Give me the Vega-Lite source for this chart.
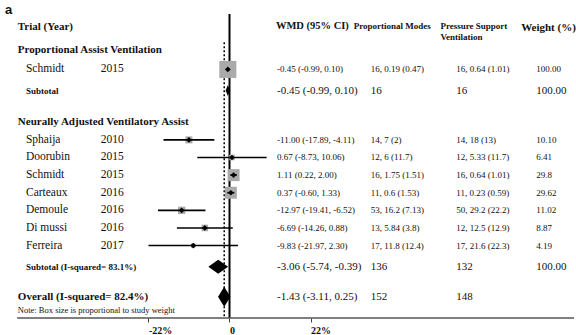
{
  "$schema": "https://vega.github.io/schema/vega-lite/v6.json",
  "width": 576,
  "height": 335,
  "autosize": {"type": "fit", "contains": "padding"},
  "padding": 0,
  "background": "white",
  "config": {
    "view": {"stroke": null},
    "text": {"font": "Liberation Serif", "color": "#111111", "align": "left", "baseline": "middle"}
  },
  "datasets": {
    "studies": [
      {"name": "Schmidt", "year": "2015", "row": 2, "est": -0.45, "lo": -0.99, "hi": 0.10, "weight": 100.0, "wmd": "-0.45 (-0.99, 0.10)", "pm": "16, 0.19 (0.47)", "psv": "16, 0.64 (1.01)", "wlabel": "100.00"},
      {"name": "Sphaija", "year": "2010", "row": 6, "est": -11.00, "lo": -17.89, "hi": -4.11, "weight": 10.10, "wmd": "-11.00 (-17.89, -4.11)", "pm": "14, 7 (2)", "psv": "14, 18 (13)", "wlabel": "10.10"},
      {"name": "Doorubin", "year": "2015", "row": 7, "est": 0.67, "lo": -8.73, "hi": 10.06, "weight": 6.41, "wmd": "0.67 (-8.73, 10.06)", "pm": "12, 6 (11.7)", "psv": "12, 5.33 (11.7)", "wlabel": "6.41"},
      {"name": "Schmidt", "year": "2015", "row": 8, "est": 1.11, "lo": 0.22, "hi": 2.00, "weight": 29.8, "wmd": "1.11 (0.22, 2.00)", "pm": "16, 1.75 (1.51)", "psv": "16, 0.64 (1.01)", "wlabel": "29.8"},
      {"name": "Carteaux", "year": "2016", "row": 9, "est": 0.37, "lo": -0.60, "hi": 1.33, "weight": 29.62, "wmd": "0.37 (-0.60, 1.33)", "pm": "11, 0.6 (1.53)", "psv": "11, 0.23 (0.59)", "wlabel": "29.62"},
      {"name": "Demoule", "year": "2016", "row": 10, "est": -12.97, "lo": -19.41, "hi": -6.52, "weight": 11.02, "wmd": "-12.97 (-19.41, -6.52)", "pm": "53, 16.2 (7.13)", "psv": "50, 29.2 (22.2)", "wlabel": "11.02"},
      {"name": "Di mussi", "year": "2016", "row": 11, "est": -6.69, "lo": -14.26, "hi": 0.88, "weight": 8.87, "wmd": "-6.69 (-14.26, 0.88)", "pm": "13, 5.84 (3.8)", "psv": "12, 12.5 (12.9)", "wlabel": "8.87"},
      {"name": "Ferreira", "year": "2017", "row": 12, "est": -9.83, "lo": -21.97, "hi": 2.30, "weight": 4.19, "wmd": "-9.83 (-21.97, 2.30)", "pm": "17, 11.8 (12.4)", "psv": "17, 21.6 (22.3)", "wlabel": "4.19"}
    ],
    "summary": [
      {"name": "Subtotal", "kind": "pav", "row": 3.2, "est": -0.45, "lo": -0.99, "hi": 0.10, "wmd": "-0.45 (-0.99, 0.10)", "pm": "16", "psv": "16", "wlabel": "100.00"},
      {"name": "Subtotal (I-squared= 83.1%)", "kind": "nava", "row": 13.2, "est": -3.06, "lo": -5.74, "hi": -0.39, "wmd": "-3.06 (-5.74, -0.39)", "pm": "136", "psv": "132", "wlabel": "100.00"},
      {"name": "Overall (I-squared= 82.4%)", "kind": "overall", "row": 14.91, "est": -1.43, "lo": -3.11, "hi": 0.25, "wmd": "-1.43 (-3.11, 0.25)", "pm": "152", "psv": "148", "wlabel": ""}
    ],
    "headings": [
      {"col": "left", "row": -0.4, "label": "Trial (Year)"},
      {"col": "left", "row": 0.914, "label": "Proportional Assist Ventilation"},
      {"col": "left", "row": 4.97, "label": "Neurally Adjusted Ventilatory Assist"},
      {"col": "wmd", "row": -0.457, "label": "WMD (95% CI)"},
      {"col": "pm", "row": -0.457, "label": "Proportional Modes"},
      {"col": "psv", "row": -0.457, "label": "Pressure Support"},
      {"col": "psv", "row": 0.171, "label": "Ventilation"},
      {"col": "wt", "row": -0.38, "label": "Weight (%)"},
      {"col": "note", "row": 15.66, "label": "Note: Box size is proportional to study weight"},
      {"col": "panel", "row": -1.37, "label": "a"}
    ]
  },
  "layer": [
    {
      "data": {"values": [{}]},
      "mark": {"type": "rule", "color": "black", "strokeWidth": 2},
      "encoding": {
        "x": {"datum": 0, "type": "quantitative",
          "scale": {"domain": [-62.24, 93.43], "nice": false, "zero": false}},
        "y": {"datum": -1.143, "type": "quantitative", "scale": {"domain": [-1.943, 16.114], "reverse": true, "nice": false, "zero": false}, "axis": null},
        "y2": {"datum": 16.114}
      }
    },
    {
      "data": {"values": [{}]},
      "mark": {"type": "rule", "color": "black", "strokeWidth": 1.5, "strokeDash": [2, 2]},
      "encoding": {
        "x": {"datum": -1.43, "type": "quantitative"},
        "y": {"datum": 0.457, "type": "quantitative", "axis": null},
        "y2": {"datum": 16.114}
      }
    },
    {
      "data": {"values": [{}]},
      "mark": {"type": "rule", "color": "#555555", "strokeWidth": 1.5},
      "encoding": {
        "x": {"datum": -57.6, "type": "quantitative"},
        "x2": {"datum": 93.43},
        "y": {"datum": 16.114, "type": "quantitative", "axis": null}
      }
    },
    {
      "data": {"name": "studies"},
      "mark": {"type": "square", "filled": true, "color": "#aaaaaa", "opacity": 1},
      "encoding": {
        "x": {"field": "est", "type": "quantitative"},
        "y": {"field": "row", "type": "quantitative", "axis": null},
        "size": {"field": "weight", "type": "quantitative", "scale": {"type": "linear", "domain": [0, 60], "range": [0, 290], "clamp": true}, "legend": null}
      }
    },
    {
      "data": {"name": "studies"},
      "mark": {"type": "rule", "color": "black", "strokeWidth": 1.6},
      "encoding": {
        "x": {"field": "lo", "type": "quantitative", "title": null,
          "axis": {"values": [-22, 0, 22], "labelExpr": "datum.value == 0 ? '0' : datum.value + '%'", "domain": false, "grid": false, "ticks": true, "tickSize": 4, "tickColor": "#444444", "tickWidth": 1, "labelFontSize": 10, "labelFontWeight": "bold", "labelFont": "Liberation Serif", "labelColor": "#111111", "labelPadding": 3, "labelAlign": "left", "labelDx": -3, "labelFlush": false, "labelOverlap": false, "title": null}},
        "x2": {"field": "hi"},
        "y": {"field": "row", "type": "quantitative", "axis": null}
      }
    },
    {
      "data": {"name": "studies"},
      "mark": {"type": "point", "filled": true, "shape": "diamond", "color": "black", "opacity": 1, "size": 32},
      "encoding": {
        "x": {"field": "est", "type": "quantitative"},
        "y": {"field": "row", "type": "quantitative", "axis": null}
      }
    },
    {
      "data": {"name": "summary"},
      "mark": {"type": "point", "filled": true, "color": "black", "opacity": 1, "size": 400},
      "encoding": {
        "x": {"field": "est", "type": "quantitative"},
        "y": {"field": "row", "type": "quantitative", "axis": null},
        "shape": {"field": "kind", "type": "nominal", "legend": null,
          "scale": {"domain": ["pav", "nava", "overall"],
            "range": ["M-0.22,0L0,-0.55L0.22,0L0,0.55Z", "M-0.99,0L0,-0.7L0.99,0L0,0.7Z", "M-0.62,0L0,-1L0.62,0L0,1Z"]}}
      }
    },
    {
      "data": {"name": "studies"},
      "mark": {"type": "text", "fontSize": 11.5},
      "encoding": {
        "x": {"datum": -55.2, "type": "quantitative"},
        "y": {"field": "row", "type": "quantitative", "axis": null},
        "text": {"field": "name"}
      }
    },
    {
      "data": {"name": "studies"},
      "mark": {"type": "text", "fontSize": 11.5},
      "encoding": {
        "x": {"datum": -34.9, "type": "quantitative"},
        "y": {"field": "row", "type": "quantitative", "axis": null},
        "text": {"field": "year"}
      }
    },
    {
      "data": {"name": "studies"},
      "mark": {"type": "text", "fontSize": 9},
      "encoding": {
        "x": {"datum": 12.9, "type": "quantitative"},
        "y": {"field": "row", "type": "quantitative", "axis": null},
        "text": {"field": "wmd"}
      }
    },
    {
      "data": {"name": "studies"},
      "mark": {"type": "text", "fontSize": 9},
      "encoding": {
        "x": {"datum": 38.3, "type": "quantitative"},
        "y": {"field": "row", "type": "quantitative", "axis": null},
        "text": {"field": "pm"}
      }
    },
    {
      "data": {"name": "studies"},
      "mark": {"type": "text", "fontSize": 9},
      "encoding": {
        "x": {"datum": 61.5, "type": "quantitative"},
        "y": {"field": "row", "type": "quantitative", "axis": null},
        "text": {"field": "psv"}
      }
    },
    {
      "data": {"name": "studies"},
      "mark": {"type": "text", "fontSize": 9},
      "encoding": {
        "x": {"datum": 83.2, "type": "quantitative"},
        "y": {"field": "row", "type": "quantitative", "axis": null},
        "text": {"field": "wlabel"}
      }
    },
    {
      "data": {"name": "summary"},
      "transform": [{"filter": "datum.kind != 'overall'"}],
      "mark": {"type": "text", "fontSize": 9, "fontWeight": "bold"},
      "encoding": {
        "x": {"datum": -55.2, "type": "quantitative"},
        "y": {"field": "row", "type": "quantitative", "axis": null},
        "text": {"field": "name"}
      }
    },
    {
      "data": {"name": "summary"},
      "transform": [{"filter": "datum.kind == 'overall'"}],
      "mark": {"type": "text", "fontSize": 11, "fontWeight": "bold"},
      "encoding": {
        "x": {"datum": -57.4, "type": "quantitative"},
        "y": {"field": "row", "type": "quantitative", "axis": null},
        "text": {"field": "name"}
      }
    },
    {
      "data": {"name": "summary"},
      "mark": {"type": "text", "fontSize": 11},
      "encoding": {
        "x": {"datum": 12.9, "type": "quantitative"},
        "y": {"field": "row", "type": "quantitative", "axis": null},
        "text": {"field": "wmd"}
      }
    },
    {
      "data": {"name": "summary"},
      "mark": {"type": "text", "fontSize": 11},
      "encoding": {
        "x": {"datum": 38.3, "type": "quantitative"},
        "y": {"field": "row", "type": "quantitative", "axis": null},
        "text": {"field": "pm"}
      }
    },
    {
      "data": {"name": "summary"},
      "mark": {"type": "text", "fontSize": 11},
      "encoding": {
        "x": {"datum": 61.5, "type": "quantitative"},
        "y": {"field": "row", "type": "quantitative", "axis": null},
        "text": {"field": "psv"}
      }
    },
    {
      "data": {"name": "summary"},
      "mark": {"type": "text", "fontSize": 11},
      "encoding": {
        "x": {"datum": 83.2, "type": "quantitative"},
        "y": {"field": "row", "type": "quantitative", "axis": null},
        "text": {"field": "wlabel"}
      }
    },
    {
      "data": {"name": "headings"},
      "transform": [{"filter": "datum.col == 'left'"}],
      "mark": {"type": "text", "fontSize": 11, "fontWeight": "bold"},
      "encoding": {
        "x": {"datum": -57.4, "type": "quantitative"},
        "y": {"field": "row", "type": "quantitative", "axis": null},
        "text": {"field": "label"}
      }
    },
    {
      "data": {"name": "headings"},
      "transform": [{"filter": "datum.col == 'wmd'"}],
      "mark": {"type": "text", "fontSize": 10.5, "fontWeight": "bold"},
      "encoding": {
        "x": {"datum": 12.6, "type": "quantitative"},
        "y": {"field": "row", "type": "quantitative", "axis": null},
        "text": {"field": "label"}
      }
    },
    {
      "data": {"name": "headings"},
      "transform": [{"filter": "datum.col == 'pm'"}],
      "mark": {"type": "text", "fontSize": 9, "fontWeight": "bold"},
      "encoding": {
        "x": {"datum": 33.7, "type": "quantitative"},
        "y": {"field": "row", "type": "quantitative", "axis": null},
        "text": {"field": "label"}
      }
    },
    {
      "data": {"name": "headings"},
      "transform": [{"filter": "datum.col == 'psv'"}],
      "mark": {"type": "text", "fontSize": 9, "fontWeight": "bold"},
      "encoding": {
        "x": {"datum": 57.2, "type": "quantitative"},
        "y": {"field": "row", "type": "quantitative", "axis": null},
        "text": {"field": "label"}
      }
    },
    {
      "data": {"name": "headings"},
      "transform": [{"filter": "datum.col == 'wt'"}],
      "mark": {"type": "text", "fontSize": 11, "fontWeight": "bold"},
      "encoding": {
        "x": {"datum": 79.1, "type": "quantitative"},
        "y": {"field": "row", "type": "quantitative", "axis": null},
        "text": {"field": "label"}
      }
    },
    {
      "data": {"name": "headings"},
      "transform": [{"filter": "datum.col == 'note'"}],
      "mark": {"type": "text", "fontSize": 8.5},
      "encoding": {
        "x": {"datum": -57.4, "type": "quantitative"},
        "y": {"field": "row", "type": "quantitative", "axis": null},
        "text": {"field": "label"}
      }
    },
    {
      "data": {"name": "headings"},
      "transform": [{"filter": "datum.col == 'panel'"}],
      "mark": {"type": "text", "fontSize": 13, "fontWeight": "bold", "font": "Liberation Sans"},
      "encoding": {
        "x": {"datum": -60.9, "type": "quantitative"},
        "y": {"field": "row", "type": "quantitative", "axis": null},
        "text": {"field": "label"}
      }
    }
  ]
}
